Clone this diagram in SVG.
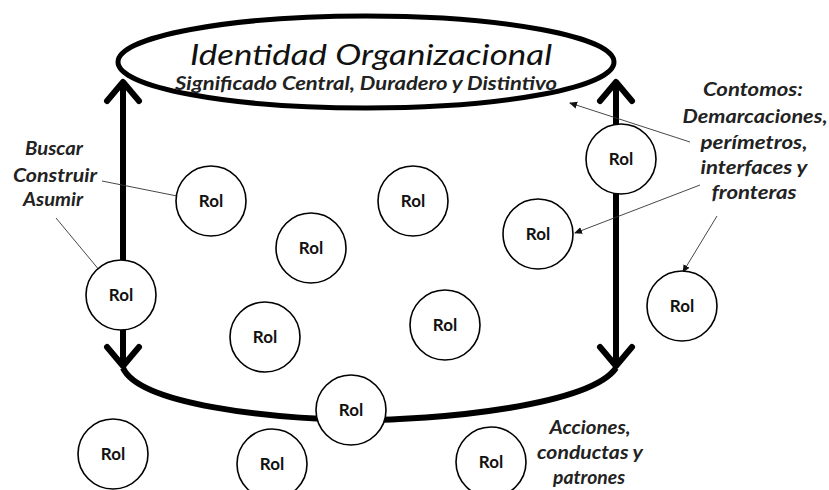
<svg xmlns="http://www.w3.org/2000/svg" width="829" height="490" viewBox="0 0 829 490">
<defs>
<style>
.rol circle{fill:#fff;stroke:#000;stroke-width:1.6}
.rol text{font-family:Lato,"Liberation Sans",sans-serif;font-weight:bold;font-size:17px;fill:#111;text-anchor:middle}
.lbl{font-family:Lato,"Liberation Sans",sans-serif;font-weight:bold;font-style:italic;font-size:19px;fill:#222;text-anchor:middle}
.thick{fill:none;stroke:#000;stroke-width:6}
.thin{fill:none;stroke:#333;stroke-width:0.9;marker-end:url(#ah)}
</style>
<marker id="chev" markerUnits="userSpaceOnUse" viewBox="-24 -20 28 40" markerWidth="28" markerHeight="40" refX="0" refY="0" orient="auto-start-reverse">
<path d="M-19,-16 L0,0 L-19,16" fill="none" stroke="#000" stroke-width="6" stroke-linecap="round" stroke-linejoin="round"/>
</marker>
<marker id="ah" markerUnits="userSpaceOnUse" viewBox="0 0 8 8" markerWidth="8" markerHeight="8" refX="7" refY="4" orient="auto">
<path d="M0,0.5 L8,4 L0,7.5 Z" fill="#111"/>
</marker>
</defs>
<rect width="829" height="490" fill="#fff"/>

<g id="connectors">
<line class="thick" x1="123" y1="82" x2="123" y2="366" marker-start="url(#chev)" marker-end="url(#chev)"/>
<line class="thick" x1="616" y1="82" x2="616" y2="366" marker-start="url(#chev)" marker-end="url(#chev)"/>
<path class="thick" d="M123,368 C140,405 270,418 350,420 C440,421 590,405 616,368"/>
<line class="thin" x1="102" y1="181" x2="197" y2="200"/>
<line class="thin" x1="56" y1="218" x2="110" y2="283"/>
<line class="thin" x1="690" y1="142" x2="570" y2="103"/>
<line class="thin" x1="700" y1="185" x2="575" y2="233"/>
<line class="thin" x1="717" y1="216" x2="683" y2="272"/>
</g>

<g id="identidad">
<ellipse cx="366" cy="62" rx="248" ry="46" fill="#fff" stroke="#000" stroke-width="5"/>
<text x="371" y="65" font-family="Lato,'Liberation Sans',sans-serif" font-style="italic" font-size="29" text-anchor="middle" textLength="362" lengthAdjust="spacingAndGlyphs" fill="#111">Identidad Organizacional</text>
<text x="366" y="90" class="lbl" font-size="16" textLength="382" lengthAdjust="spacingAndGlyphs">Significado Central, Duradero y Distintivo</text>
</g>

<g id="rol1" class="rol"><circle cx="211" cy="201" r="35"/><text x="211" y="207">Rol</text></g>
<g id="rol2" class="rol"><circle cx="413" cy="201" r="35"/><text x="413" y="207">Rol</text></g>
<g id="rol3" class="rol"><circle cx="311" cy="248" r="35"/><text x="311" y="254">Rol</text></g>
<g id="rol4" class="rol"><circle cx="538" cy="234" r="35"/><text x="538" y="240">Rol</text></g>
<g id="rol5" class="rol"><circle cx="621" cy="159" r="35"/><text x="621" y="165">Rol</text></g>
<g id="rol6" class="rol"><circle cx="121" cy="295" r="35"/><text x="121" y="301">Rol</text></g>
<g id="rol7" class="rol"><circle cx="682" cy="306" r="35"/><text x="682" y="312">Rol</text></g>
<g id="rol8" class="rol"><circle cx="265" cy="337" r="35"/><text x="265" y="343">Rol</text></g>
<g id="rol9" class="rol"><circle cx="445" cy="325" r="35"/><text x="445" y="331">Rol</text></g>
<g id="rol10" class="rol"><circle cx="351" cy="410" r="35"/><text x="351" y="416">Rol</text></g>
<g id="rol11" class="rol"><circle cx="113" cy="454" r="35"/><text x="113" y="460">Rol</text></g>
<g id="rol12" class="rol"><circle cx="272" cy="464" r="35"/><text x="272" y="470">Rol</text></g>
<g id="rol13" class="rol"><circle cx="491" cy="462" r="35"/><text x="491" y="468">Rol</text></g>

<g id="lbl-buscar">
<text class="lbl" x="54" y="155" textLength="58" lengthAdjust="spacingAndGlyphs">Buscar</text>
<text class="lbl" x="55" y="182" textLength="84" lengthAdjust="spacingAndGlyphs">Construir</text>
<text class="lbl" x="53" y="206" textLength="60" lengthAdjust="spacingAndGlyphs">Asumir</text>
</g>
<g id="lbl-contornos">
<text class="lbl" x="753" y="96" textLength="100" lengthAdjust="spacingAndGlyphs">Contomos:</text>
<text class="lbl" x="755" y="123" textLength="145" lengthAdjust="spacingAndGlyphs">Demarcaciones,</text>
<text class="lbl" x="754" y="149" textLength="107" lengthAdjust="spacingAndGlyphs">perímetros,</text>
<text class="lbl" x="754" y="174" textLength="107" lengthAdjust="spacingAndGlyphs">interfaces y</text>
<text class="lbl" x="754" y="199" textLength="85" lengthAdjust="spacingAndGlyphs">fronteras</text>
</g>
<g id="lbl-acciones">
<text class="lbl" x="590" y="434" textLength="81" lengthAdjust="spacingAndGlyphs">Acciones,</text>
<text class="lbl" x="590" y="459" textLength="106" lengthAdjust="spacingAndGlyphs">conductas y</text>
<text class="lbl" x="589" y="484" textLength="72" lengthAdjust="spacingAndGlyphs">patrones</text>
</g>
</svg>
